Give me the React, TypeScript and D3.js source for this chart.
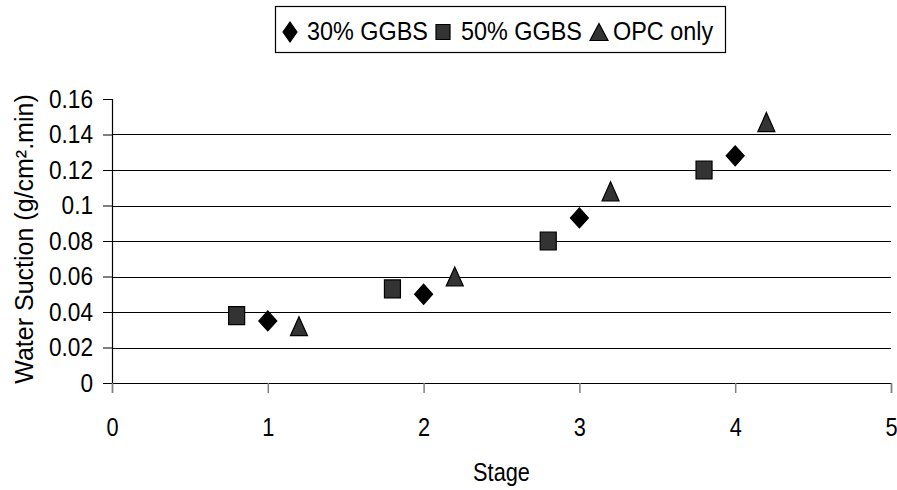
import React, { useEffect, useRef } from "react";
import * as d3 from "d3";

// stage positions (series are offset around each integer stage)
const stages30 = [1, 2, 3, 4];
const stages50 = [0.8, 1.8, 2.8, 3.8];
const stagesOPC = [1.2, 2.2, 3.2, 4.2];

// water suction values, g/cm2.min
const ggbs30 = [0.035, 0.05, 0.093, 0.128];
const ggbs50 = [0.038, 0.053, 0.08, 0.12];
const opcOnly = [0.032, 0.06, 0.108, 0.147];

const xTicks = [0, 1, 2, 3, 4, 5];
const yTicks = [0, 0.02, 0.04, 0.06, 0.08, 0.1, 0.12, 0.14, 0.16];
const legendNames = ["30% GGBS", "50% GGBS", "OPC only"];

const W = 897;
const H = 490;
const FONT = "'Liberation Sans', Arial, sans-serif";
const SQ = 0.87; // text in the original is a bit narrow

// marker outlines, w x h box centred on 0,0
function marker(kind: string, w: number, h: number) {
  const p = d3.path();
  const a = w / 2, b = h / 2;
  if (kind === "diamond") {
    p.moveTo(0, -b); p.lineTo(a, 0); p.lineTo(0, b); p.lineTo(-a, 0);
  } else if (kind === "square") {
    p.moveTo(-a, -b); p.lineTo(a, -b); p.lineTo(a, b); p.lineTo(-a, b);
  } else {
    p.moveTo(0, -b); p.lineTo(a, b); p.lineTo(-a, b);
  }
  p.closePath();
  return p.toString();
}

export default function App() {
  const ref = useRef<SVGSVGElement>(null);

  useEffect(() => {
    const svg = d3.select(ref.current);
    svg.selectAll("*").remove();

    const margin = { left: 112, right: 6, top: 99, bottom: 107 };
    const x = d3.scaleLinear().domain([0, 5]).range([margin.left, W - margin.right]);
    const y = d3.scaleLinear().domain([0, 0.16]).range([H - margin.bottom, margin.top]);

    // gridlines (no line at the top value)
    svg.append("g")
      .selectAll("line")
      .data(yTicks.filter((t) => t > 0 && t < 0.16))
      .enter()
      .append("line")
      .attr("x1", x(0))
      .attr("x2", x(5))
      .attr("y1", (d) => Math.round(y(d)) + 0.5)
      .attr("y2", (d) => Math.round(y(d)) + 0.5)
      .attr("stroke", "#000")
      .attr("stroke-width", 1.2);

    // y axis
    const yaxis = d3.axisLeft(y)
      .tickValues(yTicks)
      .tickSize(9)
      .tickFormat((d) => String(+d));
    const gy = svg.append("g")
      .attr("transform", `translate(${x(0)},0)`)
      .call(yaxis);
    gy.select(".domain").attr("stroke", "#000").attr("stroke-width", 1.2);
    gy.selectAll(".tick line").attr("stroke", "#000");
    gy.selectAll(".tick text")
      .attr("x", -19 / SQ)
      .attr("transform", `scale(${SQ},1)`)
      .attr("font-family", FONT)
      .attr("font-size", 26)
      .attr("fill", "#000");

    // x axis
    const xaxis = d3.axisBottom(x).tickValues(xTicks).tickSize(10).tickFormat((d) => String(d));
    const gx = svg.append("g")
      .attr("transform", `translate(0,${y(0)})`)
      .call(xaxis);
    gx.select(".domain").attr("stroke", "#000").attr("stroke-width", 1.2);
    gx.selectAll(".tick line").attr("stroke", "#808080").attr("stroke-width", 1.5);
    gx.selectAll(".tick text")
      .attr("y", 35)
      .attr("transform", `scale(${SQ},1)`)
      .attr("font-family", FONT)
      .attr("font-size", 25)
      .attr("fill", "#000");

    // axis titles
    svg.append("text")
      .attr("transform", `translate(${(x(0) + x(5)) / 2},481) scale(${SQ},1)`)
      .attr("text-anchor", "middle")
      .attr("font-family", FONT)
      .attr("font-size", 25)
      .text("Stage");

    svg.append("text")
      .attr("transform", `translate(33,${y(0.08) - 2}) rotate(-90)`)
      .attr("text-anchor", "middle")
      .attr("font-family", FONT)
      .attr("font-size", 25)
      .text("Water Suction (g/cm\u00b2.min)");

    // markers
    const series = [
      { xs: stages30, ys: ggbs30, path: marker("diamond", 18, 20), fill: "#000000" },
      { xs: stages50, ys: ggbs50, path: marker("square", 16, 18), fill: "#333333" },
      { xs: stagesOPC, ys: opcOnly, path: marker("triangle", 17, 19), fill: "#333333" },
    ];
    series.forEach((s) => {
      svg.append("g")
        .selectAll("path")
        .data(s.ys)
        .enter()
        .append("path")
        .attr("d", s.path)
        .attr("transform", (d, i) => `translate(${x(s.xs[i])},${y(d)})`)
        .attr("fill", s.fill)
        .attr("stroke", "#000")
        .attr("stroke-width", 1.2)
        .attr("stroke-linejoin", "miter");
    });

    // legend
    const lg = svg.append("g");
    lg.append("rect")
      .attr("x", 275.5)
      .attr("y", 6.5)
      .attr("width", 450)
      .attr("height", 46)
      .attr("fill", "#fff")
      .attr("stroke", "#000")
      .attr("stroke-width", 1.2);

    const legendItems = [
      { name: legendNames[0], path: marker("diamond", 14, 20), fill: "#000", mx: 290, tx: 307 },
      { name: legendNames[1], path: marker("square", 14, 15), fill: "#333333", mx: 443, tx: 461 },
      { name: legendNames[2], path: marker("triangle", 18, 17), fill: "#333333", mx: 599, tx: 613 },
    ];
    legendItems.forEach((it) => {
      lg.append("path")
        .attr("d", it.path)
        .attr("transform", `translate(${it.mx},32)`)
        .attr("fill", it.fill)
        .attr("stroke", "#000")
        .attr("stroke-width", 1.2);
      lg.append("text")
        .attr("transform", `translate(${it.tx},40) scale(0.9,1)`)
        .attr("font-family", FONT)
        .attr("font-size", 26)
        .text(it.name);
    });
  }, []);

  return (
    <svg
      ref={ref}
      width={W}
      height={H}
      style={{ position: "absolute", left: 0, top: 0, background: "#fff" }}
    />
  );
}
